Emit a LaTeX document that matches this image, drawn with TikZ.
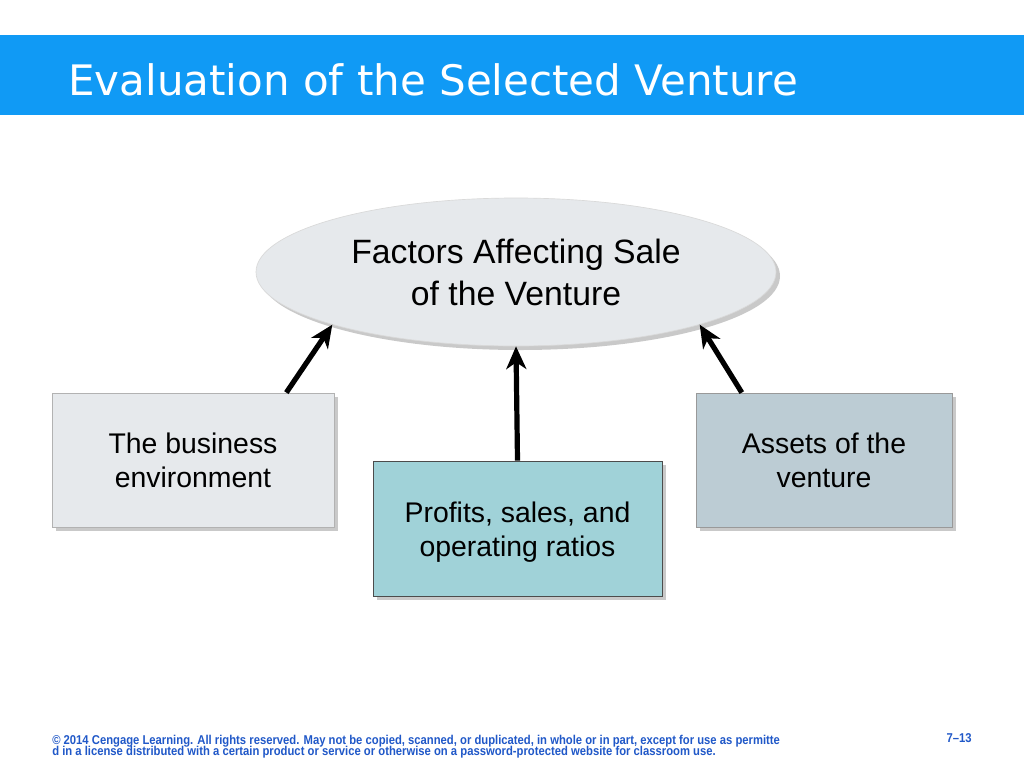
\documentclass[tikz,border=0pt]{standalone}
\usepackage{fontspec}
\setmainfont{Liberation Sans}
\newfontfamily\titlefont{DejaVu Sans}
\newfontfamily\footfont[FakeStretch=0.88,Ligatures=TeX]{Liberation Sans}
\usetikzlibrary{shapes.geometric,shadows,arrows.meta,calc}
\definecolor{barblue}{RGB}{16,154,245}
\definecolor{footblue}{RGB}{32,88,200}
\definecolor{ellfill}{RGB}{230,233,236}
\definecolor{boxgray}{RGB}{230,233,236}
\definecolor{boxteal}{RGB}{160,210,216}
\definecolor{boxslate}{RGB}{188,204,212}
\begin{document}
\begin{tikzpicture}[x=0.75pt,y=-0.75pt,
  shad/.style={drop shadow={shadow xshift=3pt,shadow yshift=-3pt,opacity=0.35,fill=black!60}},
  boxtext/.style={font=\fontsize{21.3pt}{25.5pt}\selectfont,align=center,inner sep=0pt},
  arr/.style={line width=3.9pt,-{Stealth[length=17pt,width=15pt,inset=5pt]}},
  foot/.style={font=\footfont\bfseries\fontsize{9.6pt}{8.3pt}\selectfont,text=footblue,inner sep=0pt}]
\useasboundingbox (0,0) rectangle (1024,768);
\fill[white] (0,0) rectangle (1024,768);
\fill[barblue] (0,35) rectangle (1024,115);
\node[anchor=base west,inner sep=0pt,text=white,font=\titlefont\fontsize{31.5pt}{36pt}\selectfont] (title) at (68,95) {Evaluation of the Selected Venture};

\node[ellipse,shad,fill=ellfill,draw=black!15,line width=0.5pt,minimum width=390pt,minimum height=111pt,inner sep=0pt,
  font=\fontsize{25.3pt}{31.5pt}\selectfont,align=center] (ell) at (516,272) {Factors Affecting Sale\\of the Venture};

\node[shad,fill=boxgray,draw=black!30,line width=0.6pt,minimum width=211.5pt,minimum height=100.5pt,boxtext] (left) at (193,460) {The business\\environment};
\node[shad,fill=boxslate,draw=black!40,line width=0.6pt,minimum width=192pt,minimum height=100.5pt,boxtext] (right) at (824,460) {Assets of the\\venture};
\node[shad,fill=boxteal,draw=black!70,line width=0.6pt,minimum width=216.75pt,minimum height=101.25pt] (mid) at (517.5,528.5) {};
\node[boxtext] (midtext) at (517.5,532) {Profits, sales, and\\operating ratios};

\draw[arr] ($(left.north west)!0.83!(left.north east)$) -- (ell.196);
\draw[arr] (mid.north) -- (ell.south);
\draw[arr] ($(right.north west)!0.18!(right.north east)$) -- (ell.344);

\node[foot,anchor=base west] (copy1) at (52,744) {\textcopyright{} 2014 Cengage Learning. All rights reserved. May not be copied, scanned, or duplicated, in whole or in part, except for use as permitte};
\node[foot,anchor=base west] (copy2) at (52,755) {d in a license distributed with a certain product or service or otherwise on a password-protected website for classroom use.};
\node[foot,anchor=base east] (page) at (972,742) {7–13};
\end{tikzpicture}
\end{document}
